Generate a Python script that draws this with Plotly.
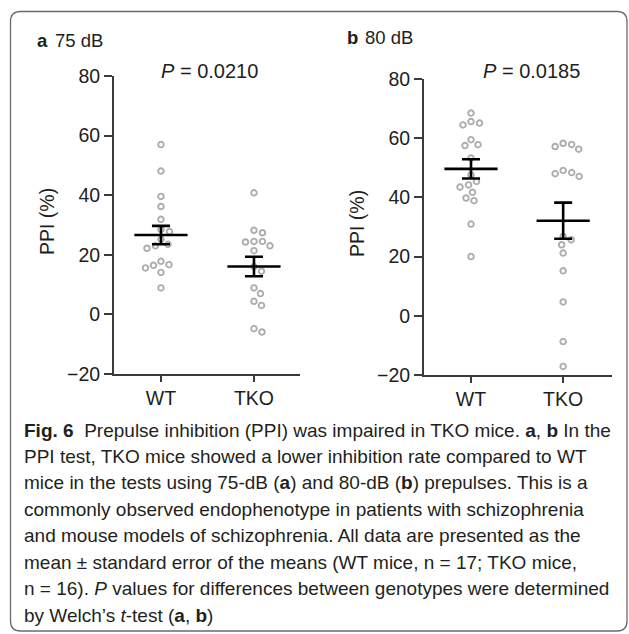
import numpy as np
import plotly.graph_objects as go

# ---------------- data ----------------
groups = ["WT", "TKO"]
ppi_75_wt = [57.0, 48.1, 39.6, 36.2, 31.9, 28.5, 27.8, 25.2, 23.5, 23.0, 22.2, 17.8, 16.7, 16.5, 15.6, 14.1, 8.9]
ppi_75_tko = [40.8, 28.2, 27.4, 24.5, 24.3, 24.5, 23.0, 21.4, 16.0, 14.5, 8.9, 7.0, 4.4, 3.0, -4.8, -5.9]
ppi_80_wt = [68.5, 65.1, 64.5, 65.6, 57.8, 57.5, 59.5, 53.3, 47.6, 45.4, 44.2, 43.5, 41.7, 39.8, 38.9, 31.0, 20.0]
ppi_80_tko = [57.2, 56.3, 57.9, 58.3, 49.1, 48.0, 47.1, 48.4, 26.8, 25.7, 24.0, 21.2, 15.2, 4.7, -8.7, -17.1]
p_values = ["0.0210", "0.0185"]
panel_letters = ["a", "b"]
panel_titles = ["75 dB", "80 dB"]
y_ticks = [-20, 0, 20, 40, 60, 80]
y_title = "PPI (%)"

caption_lines = [
    "<b>Fig. 6</b>  Prepulse inhibition (PPI) was impaired in TKO mice. <b>a</b>, <b>b</b> In the",
    "PPI test, TKO mice showed a lower inhibition rate compared to WT",
    "mice in the tests using 75-dB (<b>a</b>) and 80-dB (<b>b</b>) prepulses. This is a",
    "commonly observed endophenotype in patients with schizophrenia",
    "and mouse models of schizophrenia. All data are presented as the",
    "mean ± standard error of the means (WT mice, n = 17; TKO mice,",
    "n = 16). <i>P</i> values for differences between genotypes were determined",
    "by Welch’s <i>t</i>-test (<b>a</b>, <b>b</b>)",
]

# ---------------- layout geometry (pixels) ----------------
W, H = 629, 634
def px(x):
    return x / W
def py(y):
    return 1 - y / H

panels = [
    dict(x0=114, x1=300, y0=76, y1=374, xr=[-0.505, 1.495], data=[ppi_75_wt, ppi_75_tko]),
    dict(x0=424, x1=612, y0=79, y1=375, xr=[-0.51, 1.53], data=[ppi_80_wt, ppi_80_tko]),
]

DOT = "#adadad"
AX = "#3a3a3a"
TXT = "#1e1e1e"
FONT = "Liberation Sans, Arial, sans-serif"


def swarm(values, ppx, ppy, dist):
    """Beeswarm offsets (in x data units) so that markers do not overlap."""
    vals = np.asarray(values, float)
    order = np.argsort(-vals)
    placed = []
    offs = np.zeros(len(vals))
    steps = np.arange(0, 60, 0.5)
    cands = [0.0]
    for s in steps[1:]:
        cands += [s, -s]
    for i in order:
        yp = vals[i] * ppy
        for c in cands:
            ok = all((c - xq) ** 2 + (yp - yq) ** 2 >= dist ** 2 for xq, yq in placed)
            if ok:
                placed.append((c, yp))
                offs[i] = c / ppx
                break
    return offs


fig = go.Figure()
annotations = []

def note(x, y, text, size, xanchor="center", angle=0, color=TXT):
    annotations.append(dict(x=px(x), y=py(y), xref="paper", yref="paper", xanchor=xanchor,
                            yanchor="middle", text=text, textangle=angle, showarrow=False,
                            font=dict(family=FONT, size=size, color=color)))

for k, pn in enumerate(panels):
    xa = "x" if k == 0 else "x2"
    ya = "y" if k == 0 else "y2"
    ppx = (pn["x1"] - pn["x0"]) / (pn["xr"][1] - pn["xr"][0])
    ppy = (pn["y1"] - pn["y0"]) / 100.0
    means, sems = [], []
    for g, vals in enumerate(pn["data"]):
        offs = swarm(vals, ppx, ppy, 8.4)
        fig.add_trace(go.Scatter(
            x=g + offs, y=vals, mode="markers", xaxis=xa, yaxis=ya,
            marker=dict(symbol="circle-open", size=5.6, color=DOT, line=dict(width=1.9, color=DOT)),
            showlegend=False, hoverinfo="y"))
        arr = np.asarray(vals, float)
        means.append(arr.mean())
        sems.append(arr.std(ddof=1) / np.sqrt(len(arr)))
    fig.add_trace(go.Scatter(
        x=list(range(len(groups))), y=means, mode="markers", xaxis=xa, yaxis=ya,
        marker=dict(symbol="line-ew-open", size=38, color="black", line=dict(width=2.6, color="black")),
        error_y=dict(type="data", array=sems, visible=True, color="black", thickness=2.6, width=9),
        showlegend=False))

    axis_common = dict(showline=True, linecolor=AX, linewidth=1.8, ticks="outside",
                       tickcolor=AX, tickwidth=1.8, showgrid=False, zeroline=False,
                       tickfont=dict(family=FONT, size=19.5, color=TXT))
    xkey = "xaxis" if k == 0 else "xaxis2"
    ykey = "yaxis" if k == 0 else "yaxis2"
    fig.update_layout(**{
        xkey: dict(domain=[px(pn["x0"]), px(pn["x1"])], range=pn["xr"], anchor=ya,
                   tickvals=list(range(len(groups))), ticktext=groups, ticklen=6, **axis_common),
        ykey: dict(domain=[py(pn["y1"]), py(pn["y0"])], range=[-20, 80], anchor=xa,
                   tickvals=y_ticks, ticklen=8, **axis_common),
    })

    note(pn["x0"] - 67, (pn["y0"] + pn["y1"]) / 2 - 3, y_title, 19.5, angle=-90)
    lx = 35 if k == 0 else 345
    ly = 40 if k == 0 else 38
    note(lx, ly, f"<b>{panel_letters[k]}</b>", 18.5, xanchor="left")
    note(lx + 18, ly, panel_titles[k], 18.5, xanchor="left")
    note(209 if k == 0 else 531, 71, f"<i>P</i> = {p_values[k]}", 20)

# caption
for i, line in enumerate(caption_lines):
    note(22, 430 + i * 26.45, line, 19.0, xanchor="left", color="#231f20")

# rounded frame
L, T, R, B, r = 10.5, 11.5, 627, 631, 10
frame = (f"M {px(L + r)} {py(T)} L {px(R - r)} {py(T)} Q {px(R)} {py(T)} {px(R)} {py(T + r)} "
         f"L {px(R)} {py(B - r)} Q {px(R)} {py(B)} {px(R - r)} {py(B)} "
         f"L {px(L + r)} {py(B)} Q {px(L)} {py(B)} {px(L)} {py(B - r)} "
         f"L {px(L)} {py(T + r)} Q {px(L)} {py(T)} {px(L + r)} {py(T)} Z")

fig.update_layout(
    width=W, height=H, margin=dict(l=0, r=0, t=0, b=0, autoexpand=False),
    paper_bgcolor="white", plot_bgcolor="white",
    annotations=annotations,
    shapes=[dict(type="path", path=frame, xref="paper", yref="paper",
                 line=dict(color="#6a6a6a", width=1.3), layer="below")],
)

fig.write_html("out.html", config={"displayModeBar": False},
               post_script="document.body.style.margin='0';document.body.style.overflow='hidden';")
